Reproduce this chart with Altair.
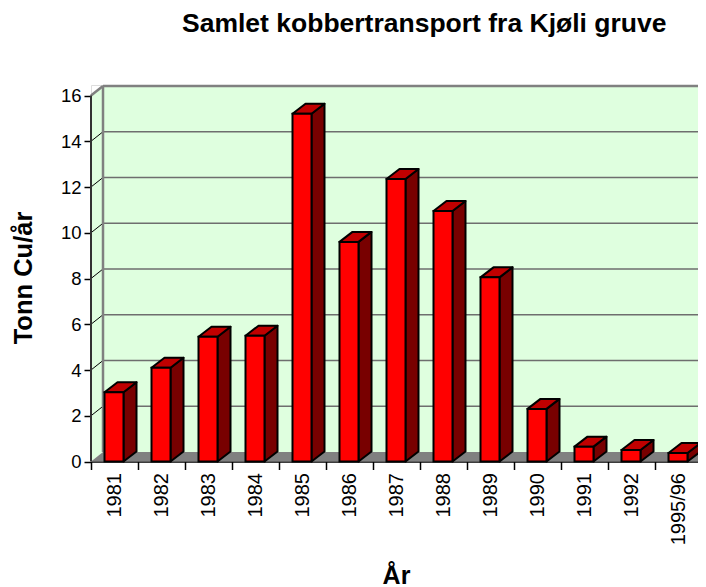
import json
import altair as alt
import pandas as pd

years = ["1981", "1982", "1983", "1984", "1985", "1986", "1987", "1988", "1989", "1990", "1991", "1992", "1995/96"]
tonnes = [3.03, 4.1, 5.45, 5.5, 15.2, 9.6, 12.35, 10.95, 8.05, 2.3, 0.65, 0.5, 0.37]
y_ticks = [0, 2, 4, 6, 8, 10, 12, 14, 16]

PX_X = 47.0      # pixels per category
PX_Y = 22.875    # pixels per tonne
WALL_DX = 12 / PX_X
WALL_DY = 9.5 / PX_Y
BAR_DX = 13 / PX_X
BAR_DY = 10 / PX_Y
BAR_L = 13.5 / PX_X
BAR_W = 19 / PX_X
PLOT_W = 607
PLOT_H = 376.5
X_END = PLOT_W / PX_X
Y_END = PLOT_H / PX_Y

FONT = "Liberation Sans"
label_expr = json.dumps(years + [""]) + "[datum.value]"

xs = alt.Scale(domain=[0, X_END], nice=False, zero=False)
ys = alt.Scale(domain=[0, Y_END], nice=False, zero=False)
x_axis = alt.Axis(
    values=list(range(len(years) + 1)), labelExpr=label_expr, labelOffset=PX_X / 2,
    labelAngle=270, labelAlign="right", labelBaseline="middle", labelPadding=3,
    labelOverlap=False, labelBound=False, labelFlush=False, labelFontSize=20, labelFont=FONT,
    labelColor="black", tickColor="black", tickSize=8, tickWidth=1.5,
    domainColor="black", domainWidth=1.5, grid=False,
    titleFont=FONT, titleFontSize=25, titleFontWeight="bold", titleColor="black",
    titleBaseline="alphabetic", titleX=305, titleY=121.5)
y_axis = alt.Axis(
    values=y_ticks, labelFontSize=18.5, labelFont=FONT, labelColor="black", labelPadding=3,
    tickColor="black", tickSize=7, tickWidth=1.5, domain=False, grid=False,
    titleFont=FONT, titleFontSize=25.5, titleFontWeight="bold", titleColor="black",
    titleBaseline="alphabetic", titleX=-60, titleY=192.5)
X = alt.X("x:Q", scale=xs, axis=x_axis, title="År")
Y = alt.Y("y:Q", scale=ys, axis=y_axis, title="Tonn Cu/år", stack=None)
Y2 = alt.Y2("y2:Q")
X2 = alt.X2("x2:Q")

top = y_ticks[-1]
wall = pd.DataFrame([
    dict(x=0, y=0, y2=top),
    dict(x=WALL_DX, y=WALL_DY, y2=top + WALL_DY),
    dict(x=X_END, y=WALL_DY, y2=top + WALL_DY),
])
floor = pd.DataFrame([
    dict(x=0, y=0, y2=0),
    dict(x=WALL_DX, y=0, y2=WALL_DY),
    dict(x=X_END, y=0, y2=WALL_DY),
])
inner = [v for v in y_ticks if 0 < v < top]
grid = pd.DataFrame([dict(x=WALL_DX, x2=X_END, y=v + WALL_DY, y2=v + WALL_DY) for v in inner])
diag = pd.DataFrame([dict(x=0, x2=WALL_DX, y=v, y2=v + WALL_DY) for v in inner])
edges = pd.DataFrame([
    dict(x=WALL_DX, x2=WALL_DX, y=WALL_DY, y2=top + WALL_DY),
    dict(x=WALL_DX, x2=X_END, y=top + WALL_DY, y2=top + WALL_DY),
    dict(x=0, x2=WALL_DX, y=top, y2=top + WALL_DY),
])
left_axis = pd.DataFrame([dict(x=0, x2=0, y=0, y2=top)])

front, side, cap = [], [], []
for i, v in enumerate(tonnes):
    l = i + BAR_L
    r = l + BAR_W
    front.append(dict(x=l, x2=r, y=0, y2=v))
    side.append(dict(b=i, x=r, y=0, y2=v))
    side.append(dict(b=i, x=r + BAR_DX, y=BAR_DY, y2=v + BAR_DY))
    cap.append(dict(b=i, x=l, y=v, y2=v))
    cap.append(dict(b=i, x=l + BAR_DX, y=v + BAR_DY, y2=v))
    cap.append(dict(b=i, x=r, y=v + BAR_DY, y2=v))
    cap.append(dict(b=i, x=r + BAR_DX, y=v + BAR_DY, y2=v + BAR_DY))


def rules(df, color, w):
    return alt.Chart(df).mark_rule(color=color, strokeWidth=w).encode(x=X, x2=X2, y=Y, y2=Y2)


layers = [
    alt.Chart(wall).mark_area(color="#DFFFDF", opacity=1).encode(x=X, y=Y, y2=Y2),
    alt.Chart(floor).mark_area(color="#808080", opacity=1).encode(x=X, y=Y, y2=Y2),
    rules(grid, "#6E6E6E", 1.5),
    rules(diag, "black", 1),
    rules(edges, "#808080", 2.5),
    rules(left_axis, "#333333", 2),
    alt.Chart(pd.DataFrame(side)).mark_area(color="#780000", stroke="black", strokeWidth=2, opacity=1, strokeJoin="round").encode(x=X, y=Y, y2=Y2, detail="b:N"),
    alt.Chart(pd.DataFrame(cap)).mark_area(color="#C00000", stroke="black", strokeWidth=2, opacity=1, strokeJoin="round").encode(x=X, y=Y, y2=Y2, detail="b:N"),
    alt.Chart(pd.DataFrame(front)).mark_rect(color="#FF0000", stroke="black", strokeWidth=2).encode(x=X, x2=X2, y=Y, y2=Y2),
]

chart = alt.layer(*layers).properties(
    width=PLOT_W, height=PLOT_H,
    padding={"left": 83, "top": 77, "right": 0, "bottom": 125.5},
    autosize=alt.AutoSizeParams(type="none"),
    title=alt.TitleParams("Samlet kobbertransport fra Kjøli gruve", font=FONT, fontSize=26.5,
                          fontWeight="bold", color="black", anchor="start", frame="group",
                          dx=91, offset=47),
).configure_view(stroke=None).configure(background="white")

chart.save("out.html", embed_options={"renderer": "svg", "actions": False})
